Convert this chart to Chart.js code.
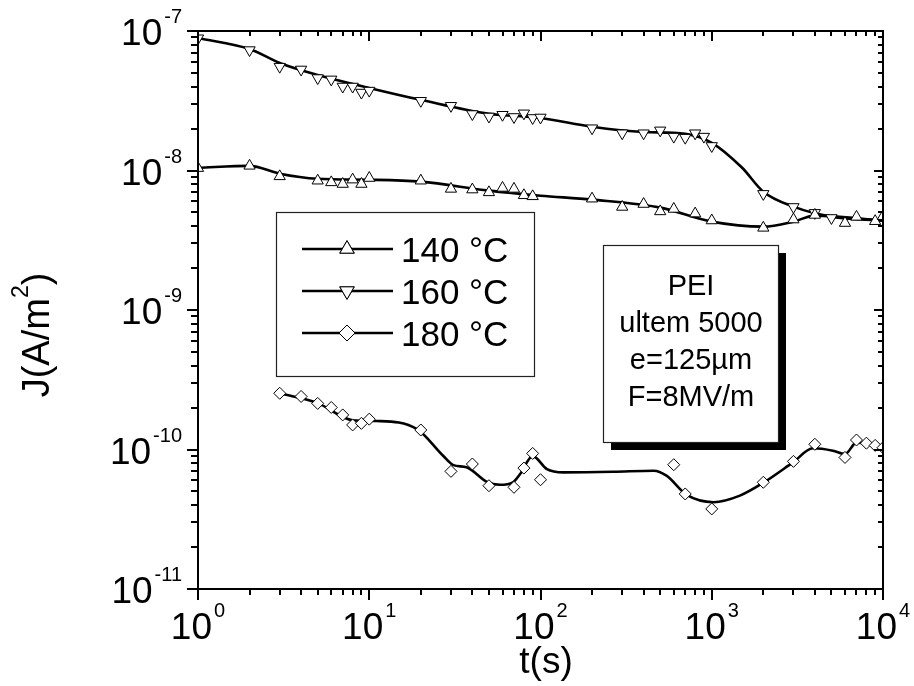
<!DOCTYPE html>
<html>
<head>
<meta charset="utf-8">
<script src="https://cdn.jsdelivr.net/npm/chart.js@4.4.1/dist/chart.umd.min.js"></script>
<style>
  html, body { margin: 0; padding: 0; background: #fff; }
  canvas { display: block; }
</style>
</head>
<body>
<canvas id="jt" width="914" height="686"></canvas>
<script>
// measured current density J (A/m^2) versus time t (s)
const t140 = [1, 2, 3, 5, 6, 7, 8, 9, 10, 20, 30, 40, 50, 60, 70, 80, 90, 200, 300, 400, 500, 600, 800, 1000, 2000, 3000, 4000, 6000, 7000, 9000, 10000];
const j140 = [1.04e-8, 1.08e-8, 9.08e-9, 8.45e-9, 8.22e-9, 8.0e-9, 8.6e-9, 8.0e-9, 8.83e-9, 8.45e-9, 7.38e-9, 7.3e-9, 6.97e-9, 7.5e-9, 7.38e-9, 6.64e-9, 6.53e-9, 6.28e-9, 5.48e-9, 5.75e-9, 5.09e-9, 5.3e-9, 4.91e-9, 4.38e-9, 3.88e-9, 4.45e-9, 4.8e-9, 4.2e-9, 4.65e-9, 4.33e-9, 4.7e-9];

const t160 = [1, 2, 3, 4, 5, 6, 7, 8, 9, 10, 20, 30, 40, 50, 60, 70, 80, 90, 100, 200, 300, 400, 500, 600, 700, 800, 900, 1000, 2000, 3000, 4000, 5000];
const j160 = [8.87e-8, 7.3e-8, 5.55e-8, 5.3e-8, 4.6e-8, 4.5e-8, 4.0e-8, 4.0e-8, 3.62e-8, 3.74e-8, 3.16e-8, 2.91e-8, 2.54e-8, 2.44e-8, 2.51e-8, 2.42e-8, 2.57e-8, 2.38e-8, 2.40e-8, 2.01e-8, 1.85e-8, 1.85e-8, 1.94e-8, 1.75e-8, 1.72e-8, 1.85e-8, 1.75e-8, 1.50e-8, 6.8e-9, 5.48e-9, 4.97e-9, 4.57e-9];

const t180 = [3, 4, 5, 6, 7, 8, 9, 10, 20, 30, 40, 50, 70, 80, 90, 100, 600, 700, 1000, 2000, 3000, 4000, 6000, 7000, 8000, 9000, 10000];
const j180 = [2.53e-10, 2.40e-10, 2.14e-10, 2.0e-10, 1.77e-10, 1.50e-10, 1.54e-10, 1.65e-10, 1.38e-10, 6.97e-11, 7.87e-11, 5.5e-11, 5.36e-11, 7.36e-11, 9.37e-11, 6.07e-11, 7.78e-11, 4.8e-11, 3.75e-11, 5.82e-11, 8.22e-11, 1.09e-10, 8.77e-11, 1.17e-10, 1.11e-10, 1.07e-10, 1.03e-10];

// smoothed curves through each series
const fitT140 = [1, 2, 3, 5, 10, 20, 50, 100, 200, 500, 1000, 2000, 3000, 4000, 10000];
const fitJ140 = [1.047e-8, 1.08e-8, 9.49e-9, 8.73e-9, 8.59e-9, 8.32e-9, 7.17e-9, 6.6e-9, 6.18e-9, 5.42e-9, 4.3e-9, 3.96e-9, 4.3e-9, 4.75e-9, 4.37e-9];

const fitT160 = [1, 2, 3, 5, 10, 20, 50, 100, 200, 400, 700, 1000, 1500, 2000, 3000, 5000, 10000];
const fitJ160 = [8.91e-8, 7.43e-8, 5.9e-8, 4.84e-8, 3.91e-8, 3.21e-8, 2.55e-8, 2.38e-8, 2.06e-8, 1.89e-8, 1.83e-8, 1.58e-8, 1.05e-8, 7.05e-9, 5.51e-9, 4.67e-9, 4.37e-9];

const fitT180 = [3, 5, 8, 11, 19, 27, 31, 37, 49, 58, 69, 76, 90, 109, 136, 265, 458, 544, 715, 1025, 1460, 1990, 2980, 3900, 5100, 6000, 7000, 8000, 10000];
const fitJ180 = [2.53e-10, 2.15e-10, 1.62e-10, 1.6e-10, 1.4e-10, 9.02e-11, 7.73e-11, 7.45e-11, 5.82e-11, 5.59e-11, 5.82e-11, 6.67e-11, 8.97e-11, 7.24e-11, 6.86e-11, 6.92e-11, 7.04e-11, 6.49e-11, 4.72e-11, 4.19e-11, 4.67e-11, 5.75e-11, 8.09e-11, 1.02e-10, 9.8e-11, 9.27e-11, 1.12e-10, 1.11e-10, 1.03e-10];

const seriesNames = ['140 °C', '160 °C', '180 °C'];
const sampleLines = ['PEI', 'ultem 5000', 'e=125µm', 'F=8MV/m'];

const xDecades = [1, 10, 100, 1000, 10000];
const xExps = ['0', '1', '2', '3', '4'];
const yDecades = [1e-11, 1e-10, 1e-9, 1e-8, 1e-7];
const yExps = ['-11', '-10', '-9', '-8', '-7'];

const FONT = '"Liberation Sans", Arial, Helvetica, sans-serif';

const pts = (xs, ys) => xs.map((x, i) => ({ x: x, y: ys[i] }));

const markerStyles = [
    { pointStyle: 'triangle', rotation: 0, r: 6.5 },
    { pointStyle: 'triangle', rotation: 180, r: 6.5 },
    { pointStyle: 'rectRot', rotation: 0, r: 6 }
];

function markerSet(label, xs, ys, m) {
    return {
        label: label,
        data: pts(xs, ys),
        showLine: false,
        pointStyle: m.pointStyle,
        rotation: m.rotation,
        pointRadius: m.r,
        pointBackgroundColor: '#fff',
        pointBorderColor: '#000',
        pointBorderWidth: 1,
        order: 0
    };
}

function curveSet(xs, ys) {
    return {
        data: pts(xs, ys),
        borderColor: '#000',
        borderWidth: 2.6,
        pointRadius: 0,
        cubicInterpolationMode: 'monotone',
        fill: false,
        order: 1
    };
}

// "10" with a raised exponent
function powerLabel(ctx, exp, x, y, align, big, small, raise) {
    ctx.font = big + 'px ' + FONT;
    const wBase = ctx.measureText('10').width;
    ctx.font = small + 'px ' + FONT;
    const wExp = ctx.measureText(exp).width;
    const gap = 2;
    const total = wBase + gap + wExp;
    let x0 = align === 'right' ? x - total : x - total / 2;
    ctx.textAlign = 'left';
    ctx.textBaseline = 'alphabetic';
    ctx.font = big + 'px ' + FONT;
    ctx.fillText('10', x0, y);
    ctx.font = small + 'px ' + FONT;
    ctx.fillText(exp, x0 + wBase + gap, y - raise);
}

function drawMarker(ctx, m, x, y, r) {
    Chart.helpers.drawPoint(ctx, { pointStyle: m.pointStyle, rotation: m.rotation, radius: r, borderWidth: 1 }, x, y);
    ctx.fill();
    ctx.stroke();
}

const framePlugin = {
    id: 'frame',
    afterDraw(chart) {
        const ctx = chart.ctx;
        const a = chart.chartArea;
        const xs = chart.scales.x;
        const ys = chart.scales.y;
        ctx.save();
        ctx.strokeStyle = '#000';
        ctx.fillStyle = '#000';
        ctx.lineWidth = 2;
        ctx.strokeRect(a.left, a.top, a.right - a.left, a.bottom - a.top);

        // ticks on the time axis (bottom outward, top inward)
        ctx.beginPath();
        for (let d = 1; d <= 1000; d *= 10) {
            for (let k = 1; k <= 10; k++) {
                const v = d * k;
                const px = Math.round(xs.getPixelForValue(v));
                const major = k === 1 || k === 10;
                ctx.moveTo(px, a.bottom);
                ctx.lineTo(px, a.bottom + (major ? 11 : 6));
                ctx.moveTo(px, a.top);
                ctx.lineTo(px, a.top + (major ? 10 : 5));
            }
        }
        // ticks on the current axis (left outward, right inward)
        for (let d = 1e-11; d < 0.9e-7; d *= 10) {
            for (let k = 1; k <= 10; k++) {
                const v = d * k;
                const py = Math.round(ys.getPixelForValue(v));
                const major = k === 1 || k === 10;
                ctx.moveTo(a.left, py);
                ctx.lineTo(a.left - (major ? 11 : 7), py);
                ctx.moveTo(a.right, py);
                ctx.lineTo(a.right - (major ? 9 : 5), py);
            }
        }
        ctx.stroke();

        // decade labels
        xDecades.forEach((v, i) => {
            powerLabel(ctx, xExps[i], xs.getPixelForValue(v), a.bottom + 50, 'center', 37, 20, 22);
        });
        yDecades.forEach((v, i) => {
            powerLabel(ctx, yExps[i], 182, ys.getPixelForValue(v) + 14, 'right', 37, 20, 22);
        });

        // axis titles
        ctx.font = '37px ' + FONT;
        ctx.textAlign = 'center';
        ctx.textBaseline = 'alphabetic';
        ctx.fillText('t(s)', 546, 673);

        ctx.save();
        ctx.translate(49, 335);
        ctx.rotate(-Math.PI / 2);
        ctx.font = '38px ' + FONT;
        const wa = ctx.measureText('J(A/m').width;
        const wc = ctx.measureText(')').width;
        ctx.font = '23px ' + FONT;
        const ws = ctx.measureText('2').width;
        let tx = -(wa + ws + wc) / 2;
        ctx.textAlign = 'left';
        ctx.font = '38px ' + FONT;
        ctx.fillText('J(A/m', tx, 0);
        ctx.font = '23px ' + FONT;
        ctx.fillText('2', tx + wa, -21);
        ctx.font = '38px ' + FONT;
        ctx.fillText(')', tx + wa + ws, 0);
        ctx.restore();

        // legend box
        ctx.fillStyle = '#fff';
        ctx.fillRect(276, 212, 258, 164);
        ctx.lineWidth = 1.2;
        ctx.strokeStyle = '#222';
        ctx.strokeRect(276.5, 212.5, 258, 164);
        const rowY = [249, 291, 333];
        seriesNames.forEach((name, i) => {
            const y = rowY[i];
            ctx.strokeStyle = '#000';
            ctx.lineWidth = 2.6;
            ctx.beginPath();
            ctx.moveTo(302, y);
            ctx.lineTo(393, y);
            ctx.stroke();
            ctx.fillStyle = '#fff';
            ctx.lineWidth = 1;
            const m = markerStyles[i];
            drawMarker(ctx, m, 347, y, m.pointStyle === 'rectRot' ? 8 : 8.3);
            ctx.fillStyle = '#000';
            ctx.font = '35px ' + FONT;
            ctx.textAlign = 'left';
            ctx.fillText(name, 401, y + 12.5);
        });

        // sample description with drop shadow
        ctx.fillStyle = '#000';
        ctx.fillRect(611, 253, 175, 197);
        ctx.fillStyle = '#fff';
        ctx.fillRect(603, 245, 175, 197);
        ctx.strokeStyle = '#222';
        ctx.lineWidth = 1.2;
        ctx.strokeRect(603.5, 245.5, 175, 197);
        ctx.fillStyle = '#000';
        ctx.font = '29px ' + FONT;
        ctx.textAlign = 'center';
        const base = [295, 332, 369, 406];
        sampleLines.forEach((s, i) => ctx.fillText(s, 691, base[i]));

        ctx.restore();
    }
};

new Chart(document.getElementById('jt').getContext('2d'), {
    type: 'line',
    data: {
        datasets: [
            markerSet(seriesNames[0], t140, j140, markerStyles[0]),
            markerSet(seriesNames[1], t160, j160, markerStyles[1]),
            markerSet(seriesNames[2], t180, j180, markerStyles[2]),
            curveSet(fitT140, fitJ140),
            curveSet(fitT160, fitJ160),
            curveSet(fitT180, fitJ180)
        ]
    },
    options: {
        responsive: false,
        animation: false,
        layout: { padding: { left: 198, top: 31, right: 31, bottom: 97 } },
        plugins: { legend: { display: false }, tooltip: { enabled: false } },
        scales: {
            x: { type: 'logarithmic', min: 1, max: 10000, display: false },
            y: { type: 'logarithmic', min: 1e-11, max: 1e-7, display: false }
        }
    },
    plugins: [framePlugin]
});
</script>
</body>
</html>
